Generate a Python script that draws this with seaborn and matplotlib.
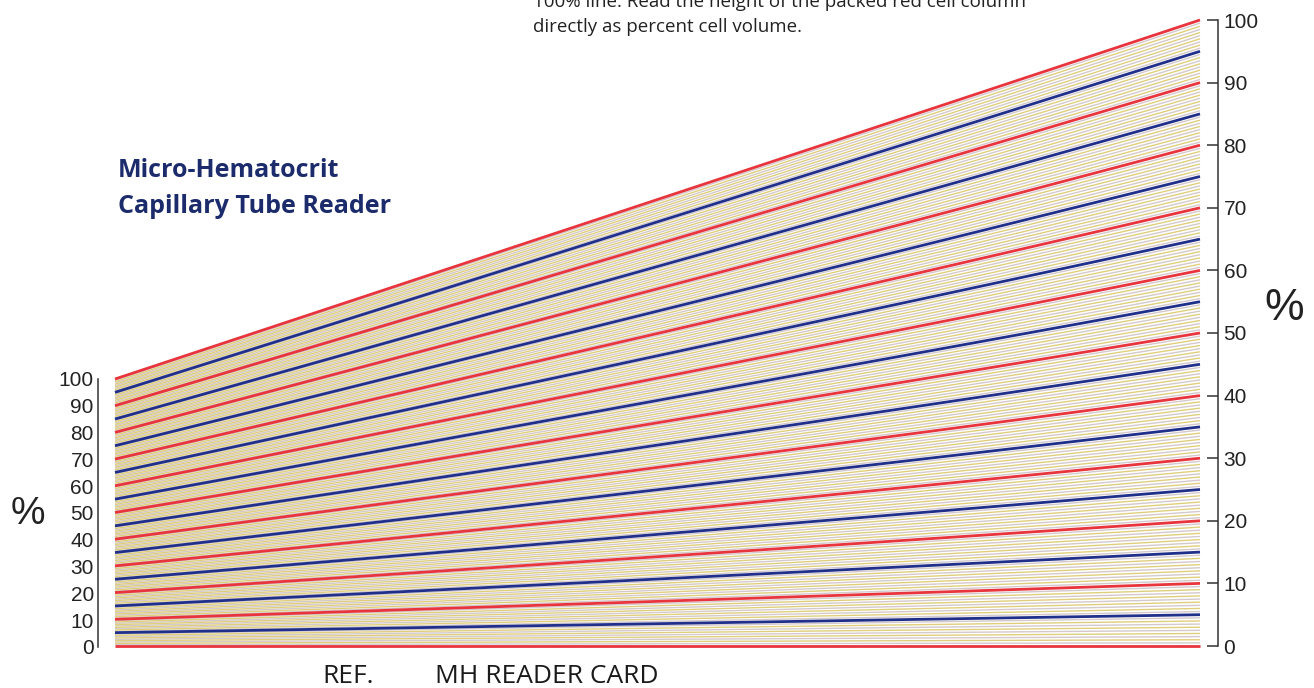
import matplotlib
matplotlib.use("Agg")
import matplotlib.pyplot as plt
import numpy as np
import pandas as pd
import seaborn as sns

# scale graduations (percent cell volume)
red_levels = [0, 10, 20, 30, 40, 50, 60, 70, 80, 90, 100]
blue_levels = [5, 15, 25, 35, 45, 55, 65, 75, 85, 95]
fine_levels = np.arange(0, 100.01, 0.5)   # ruled every half percent
tick_labels = ["0", "10", "20", "30", "40", "50", "60", "70", "80", "90", "100"]

# left end height / right end height of the fan
left_ratio = 0.4265

W, H = 1314, 688

sns.set_style("white")
plt.rcParams['font.family'] = ['Liberation Sans', 'DejaVu Sans']


def kind_of(v):
    if v % 10 == 0:
        return "red"
    if v % 5 == 0:
        return "blue"
    if v % 1 == 0:
        return "fine_a"
    return "fine_b"


rows = []
for lv in fine_levels:
    k = kind_of(lv)
    rows.append({"level": lv, "x": 0.0, "y": lv * left_ratio, "kind": k})
    rows.append({"level": lv, "x": 1.0, "y": lv, "kind": k})
df = pd.DataFrame(rows)
fine = df[df["kind"].isin(["fine_a", "fine_b"])]
major = df[df["level"].isin(red_levels + blue_levels)]

fig = plt.figure(figsize=(W / 100, H / 100), dpi=100)
ax = fig.add_axes([115 / W, (H - 646) / H, 1085 / W, 626 / H])
ax.patch.set_visible(False)

sns.lineplot(data=fine, x="x", y="y", hue="kind", units="level", estimator=None,
             sort=False, palette={"fine_a": "#dfcf7c", "fine_b": "#d4c9cc"},
             linewidth=1.0, legend=False, ax=ax)
sns.lineplot(data=major, x="x", y="y", hue="kind", units="level", estimator=None,
             sort=False, palette={"red": "#e8343c", "blue": "#1f2f8a"},
             linewidth=2.0, legend=False, ax=ax)
for ln in ax.lines:
    ln.set_clip_on(False)
    ln.set_solid_capstyle("butt")

ax.set_xlim(0, 1)
ax.set_ylim(0, 100)
ax.set_xlabel("")
ax.set_ylabel("")
ax.set_xticks([])
for s in ["left", "top", "bottom"]:
    ax.spines[s].set_visible(False)
ax.spines["right"].set_visible(True)
ax.spines["right"].set_position(("outward", 13))
ax.spines["right"].set_bounds(0, 100)
ax.spines["right"].set_color("#333333")
ax.spines["right"].set_linewidth(1.1)
ax.yaxis.tick_right()
ax.set_yticks(red_levels)
ax.set_yticklabels(tick_labels)
ax.tick_params(axis="y", direction="in", length=8, width=1.1, pad=4,
               colors="#333333", labelcolor="#222222", labelsize=15)

# left reading scale
axl = fig.add_axes([98 / W, (H - 647) / H, 4 / W, 268 / H])
axl.patch.set_visible(False)
axl.set_xlim(0, 1)
axl.set_ylim(0, 100)
axl.set_xticks([])
for s in ["right", "top", "bottom"]:
    axl.spines[s].set_visible(False)
axl.spines["left"].set_color("#333333")
axl.spines["left"].set_linewidth(1.1)
axl.set_yticks(red_levels)
axl.set_yticklabels(tick_labels)
axl.set_yticks([0, 100], minor=True)
axl.tick_params(axis="y", which="major", length=0, pad=3,
                labelcolor="#222222", labelsize=15)
axl.tick_params(axis="y", which="minor", direction="in", length=5, width=1.1,
                colors="#333333")


def px(x, y):
    return x / W, 1 - y / H


fig.text(*px(28, 514), "%", fontsize=28, ha="center", va="center", color="#222222")
fig.text(*px(1284, 308), "%", fontsize=32, ha="center", va="center", color="#222222")

fig.text(*px(118, 177), "Micro-Hematocrit", family=["Open Sans", "DejaVu Sans"],
         fontweight="bold", fontsize=18, color="#1c2b6b", va="baseline")
fig.text(*px(118, 213), "Capillary Tube Reader", family=["Open Sans", "DejaVu Sans"],
         fontweight="bold", fontsize=18, color="#1c2b6b", va="baseline")

fig.text(*px(533, 7), "100% line. Read the height of the packed red cell column",
         family=["Open Sans", "DejaVu Sans"], fontsize=13.5, color="#222222",
         va="baseline")
fig.text(*px(533, 32), "directly as percent cell volume.",
         family=["Open Sans", "DejaVu Sans"], fontsize=13.5, color="#222222",
         va="baseline")

fig.text(*px(322, 683), "REF.", family=["Open Sans", "DejaVu Sans"], fontsize=19,
         color="#1a1a1a", va="baseline")
fig.text(*px(435, 683), "MH READER CARD", family=["Open Sans", "DejaVu Sans"],
         fontsize=19, color="#1a1a1a", va="baseline")

fig.savefig("out.png", dpi=100)
